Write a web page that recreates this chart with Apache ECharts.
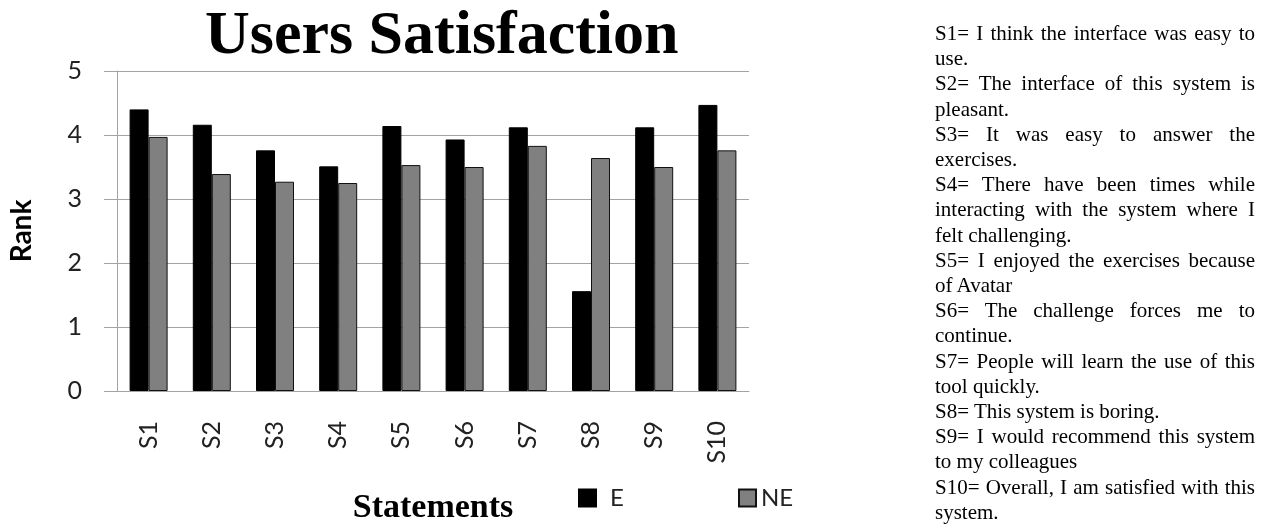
<!DOCTYPE html>
<html>
<head>
<meta charset="utf-8">
<title>Users Satisfaction</title>
<script src="https://cdn.jsdelivr.net/npm/echarts@6/dist/echarts.min.js"></script>
<style>
  html, body { margin: 0; padding: 0; background: #fff; }
  #wrap { position: relative; width: 1264px; height: 525px; overflow: hidden; }
  #chart { position: absolute; left: 0; top: 0; width: 1264px; height: 525px; }
  #notes {
    position: absolute; left: 935px; top: 21px; width: 320px;
    font-family: "Liberation Serif", "Times New Roman", serif;
    font-size: 21px; line-height: 25.2px; color: #000;
  }
  #notes p { margin: 0; text-align: justify; }
</style>
</head>
<body>
<div id="wrap">
  <div id="chart"></div>
  <div id="notes"></div>
</div>
<script>
// Statement codes on the category axis
const statements = ['S1', 'S2', 'S3', 'S4', 'S5', 'S6', 'S7', 'S8', 'S9', 'S10'];
// Mean rank per statement, group E
const valuesE = [4.40, 4.16, 3.76, 3.51, 4.14, 3.93, 4.12, 1.56, 4.12, 4.47];
// Mean rank per statement, group NE
const valuesNE = [3.97, 3.39, 3.27, 3.25, 3.53, 3.50, 3.83, 3.64, 3.50, 3.76];
// Value axis ticks
const rankTicks = [0, 1, 2, 3, 4, 5];
// Wording of each statement
const statementTexts = [
  'S1= I think the interface was easy to use.',
  'S2= The interface of this system is pleasant.',
  'S3= It was easy to answer the exercises.',
  'S4= There have been times while interacting with the system where I felt challenging.',
  'S5= I enjoyed the exercises because of Avatar',
  'S6= The challenge forces me to continue.',
  'S7= People will learn the use of this tool quickly.',
  'S8= This system is boring.',
  'S9= I would recommend this system to my colleagues',
  'S10= Overall, I am satisfied with this system.'
];

const notes = document.getElementById('notes');
statementTexts.forEach(t => {
  const p = document.createElement('p');
  p.textContent = t;
  notes.appendChild(p);
});

const sans = 'Lato, "Open Sans", sans-serif';
const serif = '"Liberation Serif", "Times New Roman", serif';
const gridGray = '#a3a3a3';

const chart = echarts.init(document.getElementById('chart'), null, { renderer: 'canvas' });
chart.setOption({
  animation: false,
  backgroundColor: '#fff',
  title: {
    text: 'Users Satisfaction',
    left: 205,
    top: 6,
    padding: 0,
    textStyle: { fontFamily: serif, fontWeight: 'bold', fontSize: 62, color: '#000' }
  },
  legend: [
    {
      data: [{ name: 'E', textStyle: { padding: [0, 0, 0, 9] } }],
      left: 578, top: 486, padding: 0,
      icon: 'rect', itemWidth: 17, itemHeight: 17,
      textStyle: { fontFamily: sans, fontSize: 24, color: '#222' }
    },
    {
      data: ['NE'],
      left: 738, top: 486, padding: 0,
      icon: 'rect', itemWidth: 17, itemHeight: 17,
      textStyle: { fontFamily: sans, fontSize: 24, color: '#222' }
    }
  ],
  grid: {
    left: 117, right: 515, top: 71, bottom: 134,
    containLabel: false,
    outerBoundsMode: 'none'
  },
  xAxis: {
    type: 'category',
    data: statements,
    name: 'Statements',
    nameLocation: 'middle',
    nameGap: 100,
    nameTextStyle: { fontFamily: serif, fontWeight: 'bold', fontSize: 34, color: '#000' },
    axisLine: { show: true, lineStyle: { color: gridGray, width: 1 } },
    axisTick: { show: false },
    axisLabel: {
      rotate: 90, margin: 30, interval: 0,
      fontFamily: sans, fontSize: 25, color: '#222'
    }
  },
  yAxis: {
    type: 'value',
    min: rankTicks[0],
    max: rankTicks[rankTicks.length - 1],
    interval: 1,
    name: 'Rank',
    nameLocation: 'middle',
    nameRotate: 90,
    nameGap: 81,
    nameTextStyle: { fontFamily: sans, fontWeight: 'bold', fontSize: 28, color: '#000' },
    axisLine: { show: true, lineStyle: { color: gridGray, width: 1 } },
    axisTick: { show: true, inside: false, length: 13, lineStyle: { color: gridGray } },
    splitLine: { show: true, lineStyle: { color: gridGray, width: 1 } },
    axisLabel: { margin: 35, fontFamily: sans, fontSize: 25, color: '#222' }
  },
  series: [
    {
      name: 'E', type: 'bar', data: valuesE,
      barWidth: 19, barGap: '0%',
      itemStyle: { color: '#000', borderColor: '#000', borderWidth: 1 }
    },
    {
      name: 'NE', type: 'bar', data: valuesNE,
      barWidth: 19,
      itemStyle: { color: '#808080', borderColor: '#111', borderWidth: 1 }
    }
  ]
});
</script>
</body>
</html>
